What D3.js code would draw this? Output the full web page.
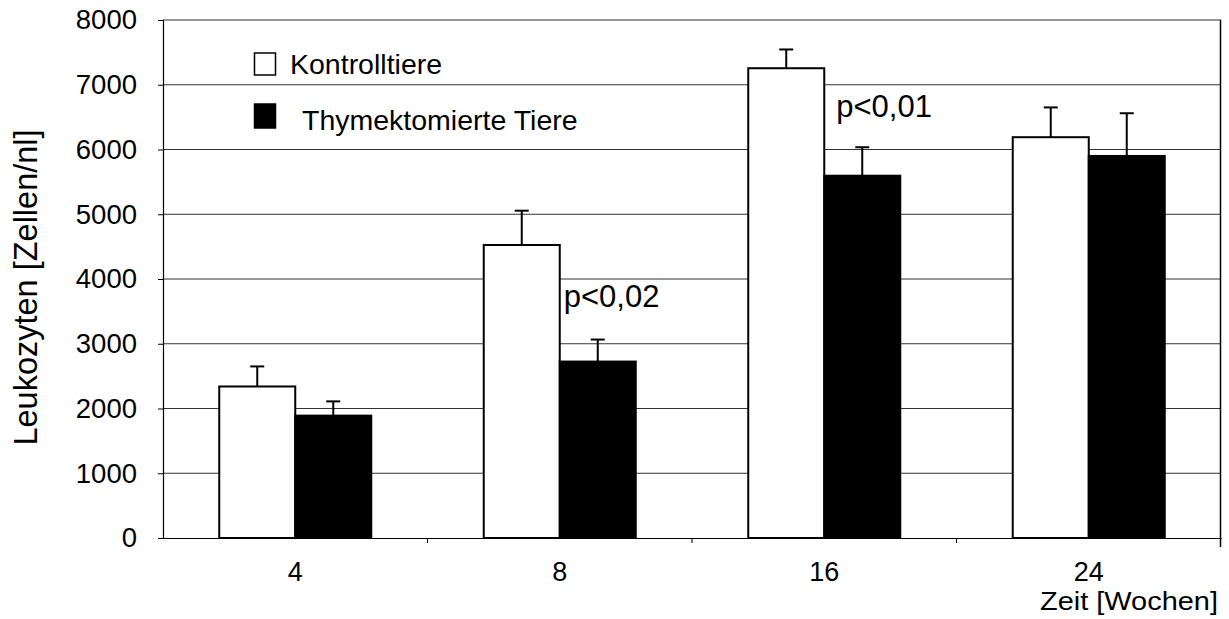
<!DOCTYPE html>
<html>
<head>
<meta charset="utf-8">
<script src="https://cdn.jsdelivr.net/npm/d3@7"></script>
<style>
html,body{margin:0;padding:0;background:#fff;}
svg{display:block;font-family:"Liberation Sans",Arial,sans-serif;}
</style>
</head>
<body>
<svg id="chart" width="1229" height="619"></svg>
<script>
const categories = ["4", "8", "16", "24"];
const seriesNames = ["Kontrolltiere", "Thymektomierte Tiere"];
const kontrollValues = [2340, 4525, 7255, 6190];
const kontrollErrors = [310, 530, 290, 460];
const thymValues = [1890, 2725, 5595, 5900];
const thymErrors = [220, 340, 440, 660];
const yTicks = [0, 1000, 2000, 3000, 4000, 5000, 6000, 7000, 8000];
const annotationCats = ["8", "16"];
const annotationTexts = ["p<0,02", "p<0,01"];
const annotationValues = [3560, 6505];

(function(){
const svg = d3.select("#chart");
const pL = 163, pR = 1221, pT = 20, pB = 538;
const annOffsets = [4, 12];

const x = d3.scaleBand().domain(categories).range([pL, pR]).paddingInner(0).paddingOuter(0);
const x1 = d3.scaleBand().domain([0, 1]).range([0, x.bandwidth()]).paddingOuter(0.74).paddingInner(0);
const y = d3.scaleLinear().domain([0, 8000]).range([pB, pT]);

// gridlines
svg.append("g").selectAll("line").data(yTicks.filter(d => d > 0)).join("line")
  .attr("x1", pL).attr("x2", pR)
  .attr("y1", d => y(d)).attr("y2", d => y(d))
  .attr("stroke", "#333").attr("stroke-width", 1);

// right border
svg.append("line").attr("x1", pR - 0.5).attr("x2", pR - 0.5)
  .attr("y1", pT).attr("y2", pB + 9).attr("stroke", "#000").attr("stroke-width", 1.5);

// y axis
const yAxis = d3.axisLeft(y).tickValues(yTicks).tickSize(5).tickPadding(21).tickFormat(d3.format("d"));
const gy = svg.append("g").attr("transform", `translate(${pL},0)`).call(yAxis);
gy.select(".domain").attr("stroke", "#000").attr("stroke-width", 1.2);
gy.selectAll(".tick line").attr("stroke", "#000");
gy.selectAll("text").attr("font-size", 27.5).attr("fill", "#000").attr("font-family", "Liberation Sans, Arial, sans-serif");

// x axis
const xAxis = d3.axisBottom(x).tickSize(0).tickPadding(23.5);
const gx = svg.append("g").attr("transform", `translate(0,${pB})`).call(xAxis);
gx.select(".domain").attr("stroke", "#000").attr("stroke-width", 1.2);
gx.selectAll("text").attr("font-size", 27).attr("fill", "#000").attr("font-family", "Liberation Sans, Arial, sans-serif");
// category separator ticks
svg.append("g").selectAll("line").data(categories.slice(1)).join("line")
  .attr("x1", d => x(d)).attr("x2", d => x(d))
  .attr("y1", pB).attr("y2", pB + 5)
  .attr("stroke", "#000").attr("stroke-width", 1);

const data = categories.map((c, i) => ({
  cat: c,
  bars: [
    {s: 0, v: kontrollValues[i], e: kontrollErrors[i]},
    {s: 1, v: thymValues[i], e: thymErrors[i]}
  ]
}));

const groups = svg.append("g").selectAll("g").data(data).join("g")
  .attr("transform", d => `translate(${x(d.cat)},0)`);

// error bars (behind bars)
groups.selectAll("g.err").data(d => d.bars).join("g").attr("class", "err").each(function(b) {
  const g = d3.select(this);
  const cx = x1(b.s) + x1.bandwidth() / 2;
  g.append("line").attr("x1", cx).attr("x2", cx).attr("y1", y(b.v)).attr("y2", y(b.v + b.e))
    .attr("stroke", "#000").attr("stroke-width", 2);
  g.append("line").attr("x1", cx - 7).attr("x2", cx + 7).attr("y1", y(b.v + b.e)).attr("y2", y(b.v + b.e))
    .attr("stroke", "#000").attr("stroke-width", 2);
});

groups.selectAll("rect").data(d => d.bars).join("rect")
  .attr("x", b => x1(b.s))
  .attr("width", x1.bandwidth())
  .attr("y", b => y(b.v))
  .attr("height", b => y(0) - y(b.v))
  .attr("fill", b => b.s === 0 ? "#fff" : "#000")
  .attr("stroke", "#000").attr("stroke-width", 2);

// annotations
const ann = annotationCats.map((c, i) => ({cat: c, text: annotationTexts[i], value: annotationValues[i], off: annOffsets[i]}));
svg.append("g").selectAll("text").data(ann).join("text")
  .attr("x", d => x(d.cat) + x.bandwidth() / 2 + d.off)
  .attr("y", d => y(d.value))
  .attr("font-size", 31).attr("fill", "#000")
  .text(d => d.text);

// legend
const legend = svg.append("g");
const legY = [[53, 73.5, 290], [104, 130, 302]];
seriesNames.forEach((n, i) => {
  legend.append("rect").attr("x", 254.5).attr("y", legY[i][0]).attr("width", 21).attr("height", i === 0 ? 22 : 24)
    .attr("fill", i === 0 ? "#fff" : "#000").attr("stroke", "#000").attr("stroke-width", 1.5);
  legend.append("text").attr("x", legY[i][2]).attr("y", legY[i][1])
    .attr("font-size", 28.5).attr("fill", "#000").text(n);
});

// axis titles
svg.append("text")
  .attr("transform", `translate(37,287.5) rotate(-90)`)
  .attr("text-anchor", "middle").attr("font-size", 32.5).attr("fill", "#000")
  .text("Leukozyten [Zellen/nl]");
svg.append("text").attr("x", 1040).attr("y", 609.5)
  .attr("font-size", 25).attr("textLength", 178).attr("lengthAdjust", "spacingAndGlyphs")
  .attr("fill", "#000").text("Zeit [Wochen]");
})();
</script>
</body>
</html>
